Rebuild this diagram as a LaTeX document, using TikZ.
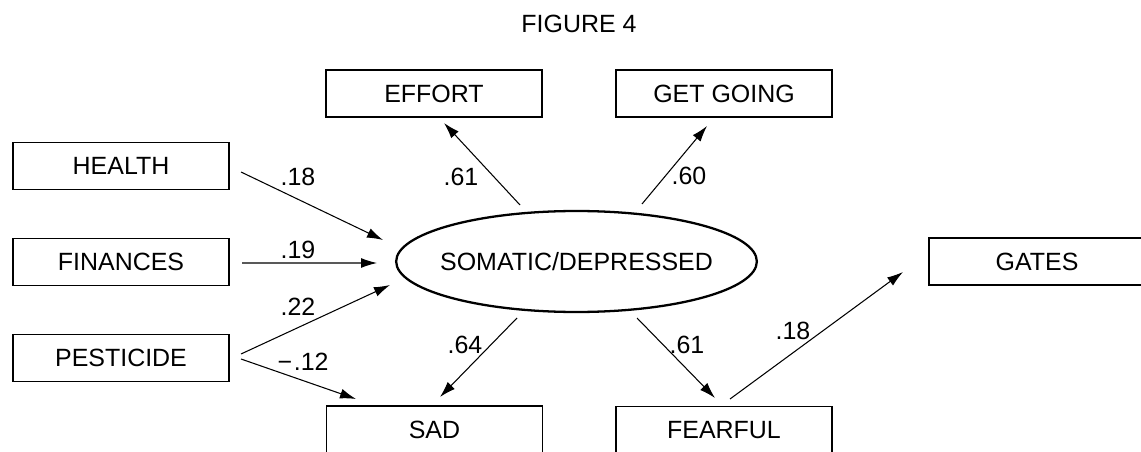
\documentclass[tikz,border=0pt]{standalone}
\usepackage{fontspec}
\setmainfont{Liberation Sans}
\usetikzlibrary{arrows.meta,shapes.geometric}
\begin{document}
\begin{tikzpicture}[x=0.02cm,y=-0.02cm,
  font=\fontsize{14.2}{17}\selectfont,
  varbox/.style={draw,line width=1.1pt,minimum width=4.32cm,minimum height=0.94cm,inner sep=0pt},
  latent/.style={draw,ellipse,line width=1.3pt,inner xsep=-5pt,inner ysep=0pt,minimum height=2.02cm},
  path/.style={line width=0.6pt,-{Latex[length=0.32cm,width=0.2cm]}},
  coef/.style={inner sep=0pt}]
\clip (0,0) rectangle (1141,452);
\node[coef] (title) at (579,24) {FIGURE 4};
\node[varbox] (health) at (121,166) {HEALTH};
\node[varbox] (fin) at (121,262) {FINANCES};
\node[varbox] (pest) at (121,358) {PESTICIDE};
\node[varbox] (effort) at (434,93.5) {EFFORT};
\node[varbox] (getgoing) at (724,93.5) {GET GOING};
\node[varbox] (sad) at (434.5,429.5) {SAD};
\node[varbox] (fearful) at (724,430) {FEARFUL};
\node[varbox] (gates) at (1037,261.5) {GATES};
\node[latent] (som) at (576.5,261.5) {SOMATIC/DEPRESSED};
% paths
\draw[path] ([shift={(120,6)}]health.center) -- ([shift={(-193.5,-21.5)}]som.center);
\draw[path] ([shift={(121,1)}]fin.center) -- ([shift={(-199.5,1.5)}]som.center);
\draw[path] ([shift={(120,-4)}]pest.center) -- ([shift={(-186.5,23.5)}]som.center);
\draw[path] ([shift={(120,1)}]pest.center) -- ([shift={(-78.5,-30.5)}]sad.center);
\draw[path] ([shift={(-56.5,-56.5)}]som.center) -- ([shift={(10,29.5)}]effort.center);
\draw[path] ([shift={(65.5,-57.5)}]som.center) -- ([shift={(-17,32.5)}]getgoing.center);
\draw[path] ([shift={(-59.5,56.5)}]som.center) -- ([shift={(5.5,-32.5)}]sad.center);
\draw[path] ([shift={(60.5,56.5)}]som.center) -- ([shift={(-9,-32)}]fearful.center);
\draw[path] ([shift={(6,-31)}]fearful.center) -- ([shift={(-134,10.5)}]gates.center);
% coefficients
\node[coef] (c1) at (298,177) {.18};
\node[coef] (c2) at (298,250) {.19};
\node[coef] (c3) at (298,307) {.22};
\node[coef] (c4) at (303,362) {−\kern1pt.12};
\node[coef] (c5) at (461,177) {.61};
\node[coef] (c6) at (689,176) {.60};
\node[coef] (c7) at (465,345) {.64};
\node[coef] (c8) at (687,345) {.61};
\node[coef] (c9) at (793,331) {.18};
\end{tikzpicture}
\end{document}
